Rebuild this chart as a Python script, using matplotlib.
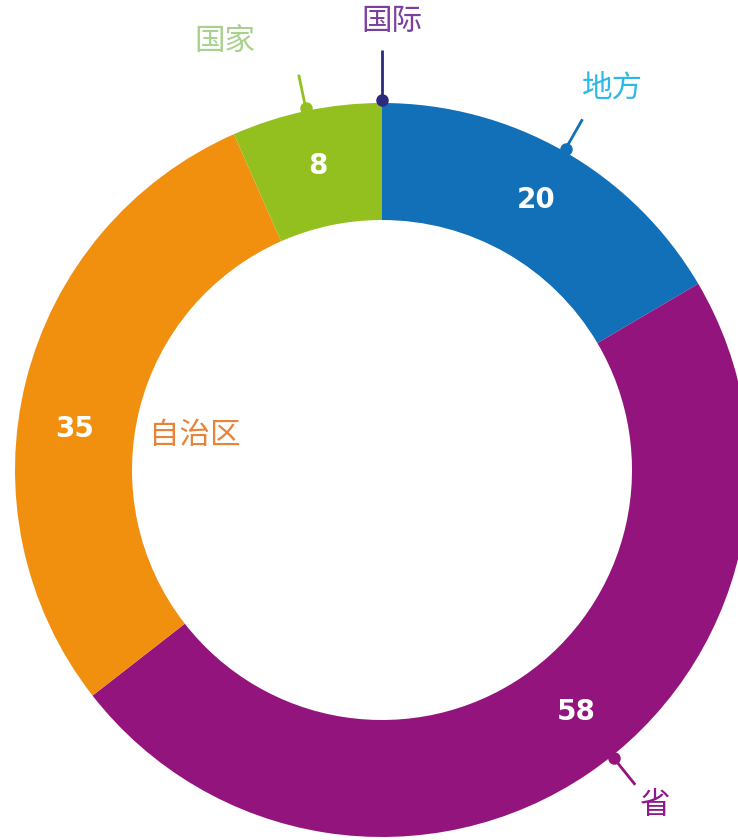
import matplotlib
matplotlib.use("Agg")
import matplotlib.pyplot as plt
import numpy as np

plt.rcParams['font.family'] = ['Noto Sans CJK SC', 'DejaVu Sans']

# 数据
categories = ['国际', '地方', '省', '自治区', '国家']
values = [0, 20, 58, 35, 8]
colors = ['#2B2A7F', '#1170B8', '#93147D', '#F18F0F', '#93C01F']
label_colors = ['#7B3FA0', '#2DB8EA', '#8E1A8C', '#E8833A', '#A9D18E']

W, H = 738, 840
fig = plt.figure(figsize=(W / 100, H / 100), dpi=100)
ax = fig.add_axes([0, 0, 1, 1])

cx, cy = 382, H - 470
r_out, r_in = 367, 250

ax.pie(values, startangle=90, counterclock=False, colors=colors,
       center=(cx, cy), radius=r_out, frame=True,
       wedgeprops=dict(width=r_out - r_in, linewidth=0))
ax.set_xlim(0, W)
ax.set_ylim(0, H)
ax.set_aspect('equal')
ax.axis('off')

# 角度（从顶部顺时针）
total = sum(values)
ends = np.cumsum(values) / total * 360
starts = ends - np.array(values) / total * 360
mids = (starts + ends) / 2
# 标签位置微调（度）
shift = {'省': -4.6, '自治区': -6.6}


def pt(angle, r):
    a = np.radians(angle)
    return cx + r * np.sin(a), cy + r * np.cos(a)


# 数值标签
for cat, v, m in zip(categories, values, mids):
    if v == 0:
        continue
    x, y = pt(m + shift.get(cat, 0), r_in + (r_out - r_in) / 2 + 2)
    ax.text(x, y, str(v), color='white', fontsize=20, fontweight='bold',
            ha='center', va='center', family='DejaVu Sans')

# 引线
for i, (cat, m) in enumerate(zip(categories, mids)):
    if cat == '自治区':
        continue
    m = m + shift.get(cat, 0)
    r_end = 420 if values[i] == 0 else 404
    x0, y0 = pt(m, r_out + 3)
    x1, y1 = pt(m, r_end)
    lc = colors[i]
    ax.plot([x0, x1], [y0, y1], color=lc, lw=2, solid_capstyle='butt')
    ax.plot(x0, y0, 'o', color=lc, markersize=8)

# 类别标签
label_pos = {'国际': (392, 22), '地方': (612, 88), '省': (655, 805),
             '自治区': (195, 435), '国家': (225, 42)}
for cat, lcol in zip(categories, label_colors):
    px, py = label_pos[cat]
    ax.text(px, H - py, cat, color=lcol, fontsize=22,
            ha='center', va='center', fontweight='light')

fig.savefig('out.png', dpi=100)
